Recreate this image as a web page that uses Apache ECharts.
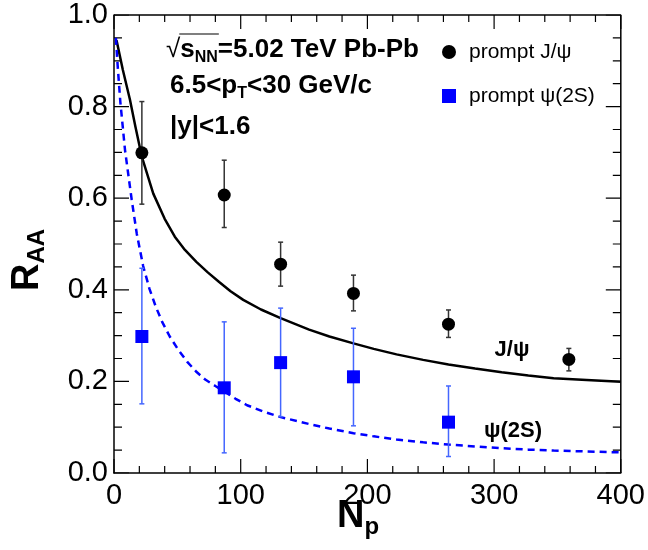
<!DOCTYPE html>
<html>
<head>
<meta charset="utf-8">
<script src="https://cdn.jsdelivr.net/npm/echarts@6/dist/echarts.min.js"></script>
<style>html,body{margin:0;padding:0;background:#fff}#c{width:648px;height:550px}</style>
</head>
<body>
<div id="c"></div>
<script>
// ---- data ----
const jpsiNpart = [22, 87, 131.5, 189, 264, 359];
const jpsiRaa   = [0.699, 0.607, 0.456, 0.392, 0.325, 0.248];
const jpsiHi    = [0.811, 0.683, 0.504, 0.432, 0.356, 0.272];
const jpsiLo    = [0.587, 0.536, 0.408, 0.354, 0.296, 0.223];

const psiNpart = [22, 87, 131.5, 189, 264];
const psiRaa   = [0.298, 0.186, 0.241, 0.210, 0.111];
const psiHi    = [0.447, 0.330, 0.360, 0.316, 0.190];
const psiLo    = [0.151, 0.044, 0.123, 0.103, 0.036];

const jpsiCurveNp = [2, 7, 12.6, 17, 22, 31, 40, 48, 56, 65, 74, 83, 92, 102, 116, 131.5, 154, 170, 189, 205, 223, 244, 264, 285, 306, 327, 347, 373, 400];
const jpsiCurveR  = [0.945, 0.88, 0.815, 0.755, 0.690, 0.610, 0.555, 0.516, 0.487, 0.461, 0.438, 0.417, 0.397, 0.378, 0.357, 0.338, 0.313, 0.298, 0.283, 0.271, 0.259, 0.247, 0.237, 0.228, 0.220, 0.213, 0.207, 0.203, 0.199];

const psiCurveNp = [1.5, 3, 5, 8.7, 14, 18, 23, 28, 33, 38, 44, 51, 58, 65, 72, 80, 87, 96, 105, 118, 131.5, 154, 170, 189, 205, 223, 244, 264, 285, 306, 327, 347, 373, 400];
const psiCurveR  = [0.95, 0.885, 0.81, 0.705, 0.596, 0.522, 0.452, 0.402, 0.363, 0.330, 0.298, 0.268, 0.242, 0.221, 0.204, 0.190, 0.178, 0.162, 0.148, 0.134, 0.122, 0.107, 0.097, 0.087, 0.080, 0.073, 0.067, 0.062, 0.058, 0.054, 0.051, 0.049, 0.047, 0.045];

const xTicks = [0, 100, 200, 300, 400];
const yTicks = [0.0, 0.2, 0.4, 0.6, 0.8, 1.0];
const xMinorTicks = [0, 20, 40, 60, 80, 100, 120, 140, 160, 180, 200, 220, 240, 260, 280, 300, 320, 340, 360, 380, 400];
const yMinorTicks = [0, 0.05, 0.1, 0.15, 0.2, 0.25, 0.3, 0.35, 0.4, 0.45, 0.5, 0.55, 0.6, 0.65, 0.7, 0.75, 0.8, 0.85, 0.9, 0.95, 1.0];

const seriesNames = ['prompt J/ψ', 'prompt ψ(2S)'];
const curveLabels = ['J/ψ', 'ψ(2S)'];

// ---- helpers ----
const FF = '"Liberation Sans", Arial, Helvetica, sans-serif';
const cv = document.createElement('canvas').getContext('2d');
function tw(t, size, bold) { cv.font = (bold ? 'bold ' : '') + size + 'px ' + FF; return cv.measureText(t).width; }
function richRow(parts, x, y, color) {
  const children = [];
  let cx = 0;
  parts.forEach(p => {
    children.push({ type: 'text', x: cx, y: p[3] || 0,
      style: { text: p[0], fontSize: p[1], fontWeight: p[2] ? 'bold' : 'normal', fontFamily: FF,
               fill: color || '#000', textAlign: 'left', textVerticalAlign: 'middle', verticalAlign: 'middle' } });
    cx += tw(p[0], p[1], p[2]);
  });
  return { type: 'group', x: x, y: y, children: children, w: cx };
}
function zip(a, b) { return a.map((v, i) => [v, b[i]]); }
function zip3(a, b, c) { return a.map((v, i) => [v, b[i], c[i]]); }

function errRender(color, lw, capHalf) {
  return function (params, api) {
    const x = api.value(0);
    const pHi = api.coord([x, api.value(2)]);
    const pLo = api.coord([x, api.value(1)]);
    return { type: 'group', children: [
      { type: 'line', shape: { x1: pHi[0], y1: pHi[1], x2: pLo[0], y2: pLo[1] }, style: { stroke: color, lineWidth: lw } },
      { type: 'line', shape: { x1: pHi[0] - capHalf, y1: pHi[1], x2: pHi[0] + capHalf, y2: pHi[1] }, style: { stroke: color, lineWidth: lw } },
      { type: 'line', shape: { x1: pLo[0] - capHalf, y1: pLo[1], x2: pLo[0] + capHalf, y2: pLo[1] }, style: { stroke: color, lineWidth: lw } }
    ]};
  };
}

// geometry of the plot area (pixels) used to turn tick lengths into axis units
const gridL = 114, gridT = 15, gridW = 507, gridH = 458;
const X_MIN = 0, X_MAX = 400, Y_MIN = 0, Y_MAX = 1.0;
const pxToY = px => px * (Y_MAX - Y_MIN) / gridH;
const pxToX = px => px * (X_MAX - X_MIN) / gridW;
const GAP = ['-', '-'];

// tick segments (inside, on all four sides) as broken polylines in data space
const tickSegs = [];
xMinorTicks.forEach(v => {
  const d = pxToY(xTicks.indexOf(v) >= 0 ? 14 : 7);
  tickSegs.push([v, Y_MIN], [v, Y_MIN + d], GAP, [v, Y_MAX], [v, Y_MAX - d], GAP);
});
yMinorTicks.forEach(v => {
  const d = pxToX(yTicks.some(t => Math.abs(t - v) < 1e-9) ? 15 : 8);
  tickSegs.push([X_MIN, v], [X_MIN + d, v], GAP, [X_MAX, v], [X_MAX - d, v], GAP);
});
const frameSeg = [[X_MIN, Y_MAX], [X_MAX, Y_MAX], [X_MAX, Y_MIN]];

const chart = echarts.init(document.getElementById('c'), null, { renderer: 'canvas' });

const TS = 26;
const row1 = richRow([['√', TS, false], ['s', TS, true], ['NN', 16, true, 8], ['=5.02 TeV Pb-Pb', TS, true]], 166, 50);
const sqrtW = tw('√', TS, false), sW = tw('s', TS, true) + tw('NN', 16, true);
const row2 = richRow([['6.5<p', TS, true], ['T', 16, true, 8], ['<30 GeV/c', TS, true]], 170, 86);
const row3 = richRow([['|y|<1.6', TS, true]], 170, 127);

const yTitle = { type: 'group', x: 28, y: 291, rotation: Math.PI / 2, children: richRow([['R', 38, true], ['AA', 24, true, 9]], 0, 0).children };
const xt = richRow([['N', 38, true], ['p', 24, true, 10]], 0, 0);
const xTitle = { type: 'group', x: 358 - xt.w / 2, y: 517, children: xt.children };
const l1 = richRow([[curveLabels[0], 22, true]], 0, 0);
const l2 = richRow([[curveLabels[1], 22, true]], 0, 0);

const graphicEls = [
  { type: 'group', x: row1.x, y: row1.y, children: row1.children },
  { type: 'group', x: row2.x, y: row2.y, children: row2.children },
  { type: 'group', x: row3.x, y: row3.y, children: row3.children },
  { type: 'line', shape: { x1: 166 + sqrtW - 1, y1: 34, x2: 166 + sqrtW + sW + 1, y2: 34 }, style: { stroke: '#000', lineWidth: 1.2 } },
  yTitle, xTitle,
  { type: 'group', x: 512 - l1.w / 2, y: 350, children: l1.children },
  { type: 'group', x: 513 - l2.w / 2, y: 431, children: l2.children }
];

const option = {
  animation: false,
  grid: { left: gridL, top: gridT, width: gridW, height: gridH },
  legend: {
    orient: 'vertical', left: 437, top: 36, itemWidth: 14, itemHeight: 14, itemGap: 22,
    textStyle: { fontSize: 21, fontFamily: FF, color: '#000', lineHeight: 22, padding: [0, 0, 0, 8] },
    data: [{ name: seriesNames[0], icon: 'circle' }, { name: seriesNames[1], icon: 'rect', itemStyle: { color: '#0000ff' } }],
    selectedMode: false
  },
  xAxis: {
    type: 'value', min: X_MIN, max: X_MAX, interval: 100,
    axisLine: { show: true, onZero: false, lineStyle: { color: '#000', width: 1.5 } },
    splitLine: { show: false }, axisTick: { show: false }, minorTick: { show: false },
    axisLabel: { margin: 8, fontSize: 29, fontFamily: FF, color: '#000',
      formatter: v => (xTicks.indexOf(v) >= 0 ? String(v) : '') }
  },
  yAxis: {
    type: 'value', min: Y_MIN, max: Y_MAX, interval: 0.2,
    axisLine: { show: true, onZero: false, lineStyle: { color: '#000', width: 1.5 } },
    splitLine: { show: false }, axisTick: { show: false }, minorTick: { show: false },
    axisLabel: { margin: 6, fontSize: 29, fontFamily: FF, color: '#000',
      formatter: v => (yTicks.some(t => Math.abs(t - v) < 1e-9) ? v.toFixed(1) : '') }
  },
  series: [
    { type: 'line', data: frameSeg, showSymbol: false, symbol: 'none', smooth: false, clip: false,
      lineStyle: { color: '#000', width: 1.5 }, z: 2, silent: true },
    { type: 'line', data: tickSegs, showSymbol: false, symbol: 'none', smooth: false, connectNulls: false,
      lineStyle: { color: '#000', width: 1.2 }, z: 2, silent: true },
    { type: 'line', data: zip(jpsiCurveNp, jpsiCurveR), showSymbol: false, symbol: 'none',
      smooth: false, lineStyle: { color: '#000', width: 2.5 }, z: 2, silent: true },
    { type: 'line', data: zip(psiCurveNp, psiCurveR), showSymbol: false, symbol: 'none',
      smooth: false, lineStyle: { color: '#0000ff', width: 2.5, type: [7, 5] }, z: 2, silent: true },
    { type: 'custom', data: zip3(jpsiNpart, jpsiLo, jpsiHi), renderItem: errRender('#333', 1.5, 2.5), z: 3 },
    { type: 'custom', data: zip3(psiNpart, psiLo, psiHi), renderItem: errRender('#4466ff', 1.5, 2.5), z: 3 },
    { name: seriesNames[0], type: 'scatter', data: zip(jpsiNpart, jpsiRaa), symbol: 'circle', symbolSize: 13,
      itemStyle: { color: '#000', opacity: 1 }, z: 4 },
    { name: seriesNames[1], type: 'scatter', data: zip(psiNpart, psiRaa), symbol: 'rect', symbolSize: 13,
      itemStyle: { color: '#0000ff', opacity: 1 }, z: 4 }
  ],
  graphic: graphicEls
};
chart.setOption(option);
</script>
</body>
</html>
